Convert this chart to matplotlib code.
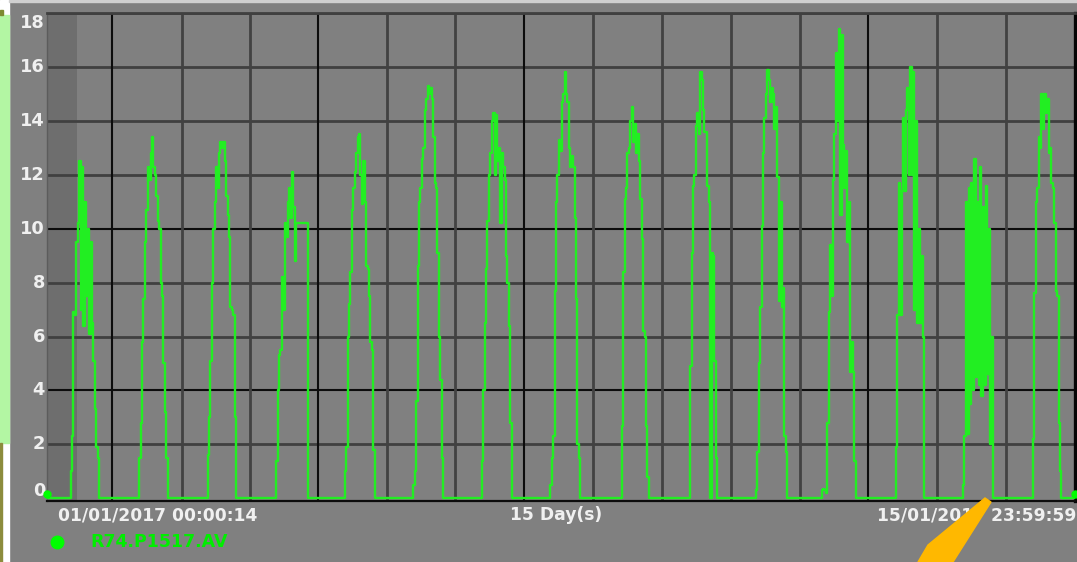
import matplotlib
matplotlib.use("Agg")
import matplotlib.pyplot as plt
import matplotlib.transforms as mtransforms
from matplotlib.patches import Rectangle, Polygon
from matplotlib.lines import Line2D
import numpy as np

# ---------------- data (trend, one list per day, samples 07:00..20:00 every 30 min)
sample_hours = np.arange(7.0, 20.01, 0.5)
day_01 = [0, 0, 0, 1.0, 2.3, 6.9, 6.8, 9.5, 10.2, 12.5, 7.0, 12.3, 6.4, 11.0, 7.5, 10.0, 6.1, 9.5, 6.5, 5.1, 3.3, 1.9, 1.5, 0, 0, 0, 0]
day_02 = [0, 0, 0, 1.5, 2.8, 5.8, 7.4, 9.5, 10.7, 12.3, 11.8, 12.8, 13.4, 12.3, 12.0, 11.2, 10.3, 10.0, 8.0, 7.5, 5.0, 3.2, 1.5, 0, 0, 0, 0]
day_03 = [0, 0, 0, 1.6, 3.0, 5.1, 8.0, 10.0, 11.0, 12.3, 11.5, 12.8, 13.2, 13.0, 13.2, 12.5, 11.2, 10.5, 9.7, 7.1, 7.0, 6.8, 3.0, 0, 0, 0, 0]
day_04 = [0, 0, 0, 1.4, 4.0, 5.3, 5.5, 8.2, 7.0, 10.2, 9.7, 11.0, 11.5, 10.4, 12.1, 10.8, 8.8, 10.2, 10.2, 10.2, 10.2, 10.2, 10.2, 10.2, 10.2, 0, 0]
day_05 = [0, 0, 0, 1.0, 1.9, 6.0, 7.2, 8.4, 10.7, 11.5, 12.1, 12.8, 13.4, 13.5, 12.0, 10.9, 12.5, 11.0, 8.6, 8.5, 7.5, 5.8, 5.5, 1.8, 0, 0, 0]
day_06 = [0, 0, 0, 0.5, 1.0, 3.6, 8.6, 11.0, 11.5, 12.6, 13.0, 14.4, 14.8, 15.3, 15.0, 15.2, 14.8, 13.4, 11.7, 11.5, 9.1, 6.0, 4.4, 1.5, 0, 0, 0]
day_07 = [0, 0, 0, 1.4, 4.0, 6.5, 8.5, 10.3, 12.0, 12.8, 14.0, 14.3, 12.0, 14.2, 12.5, 13.0, 10.2, 12.8, 12.3, 11.8, 9.0, 8.0, 6.4, 2.8, 0, 0, 0]
day_08 = [0, 0, 0, 0.5, 1.5, 2.3, 7.7, 11.0, 12.0, 13.3, 12.9, 14.7, 15.0, 15.8, 15.0, 14.7, 13.0, 12.3, 12.7, 12.3, 10.4, 7.4, 2.0, 1.5, 0, 0, 0]
day_09 = [0, 0, 0, 0, 0, 2.7, 8.4, 11.1, 11.5, 12.8, 13.0, 14.0, 14.5, 13.2, 13.9, 12.8, 13.5, 12.5, 11.1, 9.6, 6.2, 6.0, 2.7, 0.8, 0, 0, 0]
day_10 = [0, 0, 0, 0, 0, 4.9, 9.1, 11.6, 12.0, 13.8, 14.3, 13.5, 15.8, 15.5, 14.4, 13.6, 13.6, 11.6, 11.0, 0, 9.1, 9.0, 5.1, 1.5, 0, 0, 0]
day_11 = [0, 0, 0, 0.3, 1.7, 5.0, 7.1, 10.1, 12.8, 14.1, 15.0, 15.9, 15.5, 14.7, 15.2, 15.0, 13.7, 14.5, 11.9, 7.3, 11.0, 7.1, 7.8, 2.3, 1.7, 0, 0]
day_12 = [0, 0.3, 0.35, 0.3, 0.2, 2.8, 6.9, 9.4, 7.5, 11.8, 13.5, 16.5, 14.0, 17.4, 10.5, 17.2, 13.1, 11.5, 12.9, 9.5, 11.0, 4.7, 5.8, 4.7, 1.4, 0, 0]
day_13 = [0, 0, 0, 0, 0, 1.9, 6.8, 11.7, 6.8, 11.4, 14.1, 11.4, 14.4, 15.2, 12.0, 16.0, 12.0, 15.8, 7.0, 14.0, 6.5, 10.0, 6.5, 9.0, 6.0, 0, 0]
day_14 = [0, 0, 0, 0, 0.5, 2.3, 11.0, 2.4, 11.5, 3.5, 11.7, 4.0, 12.6, 4.5, 11.0, 4.2, 12.3, 3.8, 10.8, 4.2, 11.6, 4.6, 10.0, 2.0, 6.0, 0, 0]
day_15 = [0, 0, 0, 0, 0, 2.2, 7.6, 11.0, 11.5, 13.4, 13.0, 15.0, 13.7, 15.0, 14.3, 14.8, 12.8, 13.0, 11.7, 11.5, 10.2, 7.7, 7.5, 2.8, 1.0, 0, 0]
days = [day_01, day_02, day_03, day_04, day_05, day_06, day_07, day_08,
        day_09, day_10, day_11, day_12, day_13, day_14, day_15]

y_ticks = [0, 2, 4, 6, 8, 10, 12, 14, 16, 18]
y_tick_labels = ["0", "2", "4", "6", "8", "10", "12", "14", "16", "18"]
v_grid = [0.95, 1.97, 2.96, 3.96, 4.96, 5.95, 6.96, 7.97, 8.97, 9.98, 10.99, 11.98, 12.99, 13.99]
x_label_start = "01/01/2017 00:00:14"
x_label_span = "15 Day(s)"
x_label_end = "15/01/2017 23:59:59"
legend_label = "R74.P1517.AV"

# ---------------- build series
t = [0.0]
v = [0.0]
for d, vals in enumerate(days):
    for h, val in zip(sample_hours, vals):
        t.append(d + h / 24.0)
        v.append(val)
t.append(15.0)
v.append(0.0)

# ---------------- figure
W, H = 1077, 562
GREY = "#808080"
fig = plt.figure(figsize=(W / 100, H / 100), dpi=100, facecolor=GREY)

def fx(px):
    return px / W

def fy(py):
    return 1 - py / H

# left decorative strip
fig.add_artist(Rectangle((0, 0), fx(9), 1, transform=fig.transFigure, color="white", zorder=0))
fig.add_artist(Rectangle((0, fy(443)), fx(9), (443 - 15) / H, transform=fig.transFigure,
                         color="#b3f6a3", zorder=1))
fig.add_artist(Rectangle((0, 0), fx(2), fy(443), transform=fig.transFigure,
                         color="#8c8c3c", zorder=1))
fig.add_artist(Rectangle((0, fy(15)), fx(3), 5 / H, transform=fig.transFigure,
                         color="#7d8a30", zorder=1))
fig.add_artist(Rectangle((fx(9), fy(2)), 1, 2 / H, transform=fig.transFigure,
                         color="#d0d0d0", zorder=1))

ax = fig.add_axes([fx(47), fy(501), 1028 / W, 488 / H])
ax.set_facecolor(GREY)
ax.set_xlim(0, 15)
ax.set_ylim(-0.1, 18)
ax.axvspan(0, 0.44, color="#6e6e6e", zorder=0, lw=0)

for yv in y_ticks:
    if yv in (4, 10):
        ax.axhline(yv, color="#0c0c0c", lw=1.5, zorder=1)
    elif yv == 0:
        continue
    else:
        ax.axhline(yv, color="#404040", lw=2.0, zorder=1)
for i, xv in enumerate(v_grid):
    if i in (0, 3, 6, 11):
        ax.axvline(xv, color="#0c0c0c", lw=1.5, zorder=1)
    else:
        ax.axvline(xv, color="#424242", lw=2.0, zorder=1)

ax.plot(t, v, color="#22ee22", lw=1.7, zorder=3, drawstyle="steps-mid")
ax.plot([t[0], t[-1]], [0.15, 0.15], "o", color="#00ff00", ms=5, zorder=4, clip_on=False)

ax.set_xticks([])
ax.set_yticks([])
ax.spines["right"].set_color("#050505")
ax.spines["right"].set_linewidth(2.4)
ax.spines["bottom"].set_color("#0c0c0c")
ax.spines["bottom"].set_linewidth(1.6)
ax.spines["top"].set_color("#404040")
ax.spines["top"].set_linewidth(2.0)
ax.spines["left"].set_color("#5c5c5c")
ax.spines["left"].set_linewidth(1.0)

# y tick labels
blend = mtransforms.blended_transform_factory(ax.transAxes, ax.transData)
for yv, lab in zip(y_ticks, y_tick_labels):
    off = 0
    if yv == 18:
        off = -10
    elif yv == 0:
        off = 7
    tr = blend + mtransforms.ScaledTranslation(0, off / 100, fig.dpi_scale_trans)
    ax.text(-2 / 1028, yv, lab, transform=tr, ha="right", va="center",
            color="#f0f0f0", fontsize=12.8, fontweight="bold", family="DejaVu Sans")

# x labels
txt_kw = dict(color="#f0f0f0", fontsize=12.3, fontweight="bold", family="DejaVu Sans", va="center")
fig.text(fx(58), fy(515), x_label_start, ha="left", **txt_kw)
fig.text(fx(556), fy(515), x_label_span, ha="center", **txt_kw)
fig.text(fx(1076), fy(515), x_label_end, ha="right", **txt_kw)

# legend
fig.add_artist(Line2D([fx(57)], [fy(542)], marker="o", ms=9, color="#00ff00",
                      transform=fig.transFigure))
fig.text(fx(90), fy(542), legend_label, ha="left", va="center", color="#00ee00",
         fontsize=12.5, fontweight="bold", family="DejaVu Sans")

# orange pointer
pts = [(985, 498), (991, 502), (953, 562), (918, 562), (928, 545)]
fig.add_artist(Polygon([(fx(x), fy(y)) for x, y in pts], closed=True,
                       transform=fig.transFigure, color="#ffb800", zorder=5))

fig.savefig("out.png", dpi=100, facecolor=GREY)
